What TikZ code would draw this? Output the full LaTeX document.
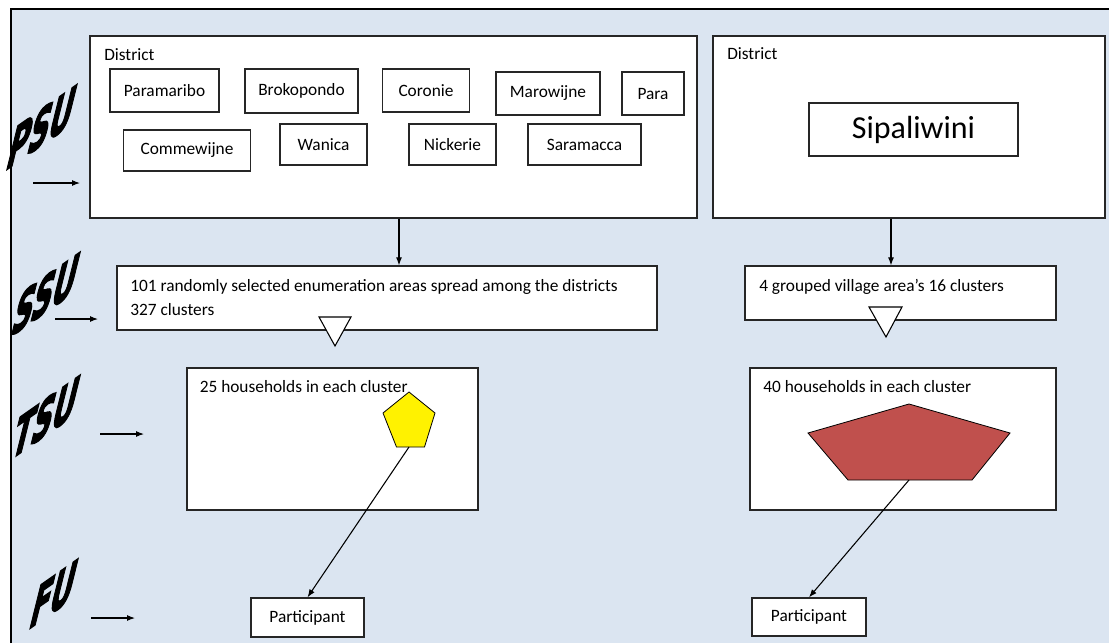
\documentclass[tikz,border=0pt]{standalone}
\usepackage{fontspec}
\setmainfont{Carlito}
\newfontfamily\wordart[BoldFeatures={FakeBold=3.5}]{DejaVu Sans}
\usetikzlibrary{arrows.meta}
\definecolor{panel}{RGB}{219,229,241}
\definecolor{housered}{RGB}{192,80,77}
\newcommand\areabox[5]{
  \node[box, minimum width={(#4-#2)*0.75pt}, minimum height={(#5-#3)*0.75pt}]
    (#1) at ({(#2+#4)/2},{(#3+#5)/2}) {};
}
\tikzset{
  box/.style={draw=black!85, fill=white, line width=1pt, inner sep=0pt},
  lbl/.style={font=\fontsize{13}{18}\selectfont, anchor=base west, inner sep=0pt, align=left},
  distbox/.style={box, font=\fontsize{13}{18}\selectfont},
  level/.style={font=\wordart\bfseries\fontsize{37}{37}\selectfont, inner sep=0pt,
    yslant=0.7, xslant=0.3, xscale=0.58},
  arr/.style={-{Latex[length=6pt,width=4.5pt]}, line width=0.8pt},
}
\begin{document}
\begin{tikzpicture}[x=0.75pt, y=-0.75pt, line join=miter]
\useasboundingbox (0,0) rectangle (1109,643);

% Panel
\fill[panel] (11,9) rectangle (1109,643);
\draw[line width=1.5pt] (11,643) -- (11,9) -- (1109,9);

% Level names
\node[level] (psu) at (42,127) {PSU};
\node[level] (ssu) at (46,294) {SSU};
\node[level] (tsu) at (46,417) {TSU};
\node[level] (fu) at (54,594) {FU};
\coordinate (psuarr) at (33,183);
\coordinate (ssuarr) at (55,319);
\coordinate (tsuarr) at (100,434);
\coordinate (fuarr) at (91,618);
\draw[arr] (psuarr) -- ++(47,0);
\draw[arr] (ssuarr) -- ++(43,0);
\draw[arr] (tsuarr) -- ++(44,0);
\draw[arr] (fuarr) -- ++(44,0);

% PSU: districts
\areabox{distL}{90}{36}{697}{218}
\areabox{distR}{713}{36}{1105}{218}
\node[lbl] (distLtxt) at (104,60) {District};
\node[lbl] (distRtxt) at (727,59) {District};
\foreach \name/\cx/\cy/\w/\h in {
  Paramaribo/164.5/90.5/109/43, Brokopondo/301.5/91/113/44,
  Coronie/426/90.5/87/43, Marowijne/548/93.5/104/43,
  Para/653/93.5/62/43, Commewijne/187/150.5/127/41,
  Wanica/323.5/144.5/87/41, Nickerie/452.5/144.5/87/41,
  Saramacca/584.5/144.5/113/41}
{
  \node[distbox, minimum width={\w*0.75pt}, minimum height={\h*0.75pt}]
    (\name) at (\cx,\cy) {\name};
}
\node[box, font=\fontsize{24}{28}\selectfont, minimum width={209*0.75pt},
  minimum height={53*0.75pt}] (Sipaliwini) at (913.5,129.5) {Sipaliwini};

% SSU
\areabox{ssuL}{117}{266}{657}{330}
\areabox{ssuR}{745}{266}{1056}{320}
\node[lbl] (ssuLtxt) at (130,315)
  {101 randomly selected enumeration areas spread among the districts\\327 clusters};
\node[lbl] (ssuRtxt) at (759,291) {4 grouped village area’s 16 clusters};
\coordinate (downL) at (399,0);
\coordinate (downR) at (891,0);
\draw[arr] (distL.south -| downL) -- (ssuL.north -| downL);
\draw[arr] (distR.south -| downR) -- (ssuR.north -| downR);
\draw[fill=white, line width=0.8pt] (319,317) -- (351,317) -- (335,346) -- cycle;
\draw[fill=white, line width=0.8pt] (869,307) -- (902,307) -- (886,337) -- cycle;

% TSU
\areabox{tsuL}{187}{368}{478}{510}
\areabox{tsuR}{750}{368}{1056}{510}
\node[lbl] (tsuLtxt) at (199.5,392) {25 households in each cluster};
\node[lbl] (tsuRtxt) at (763,392) {40 households in each cluster};
\draw[fill=yellow, line width=0.6pt] (409,392) -- (435,413) -- (424.5,447)
  -- (396.5,447) -- (383,413) -- cycle;
\draw[fill=housered, line width=0.6pt] (909,404) -- (1010,433) -- (972,480)
  -- (848,480) -- (808,433) -- cycle;
\coordinate (yelbot) at (409,447);
\coordinate (redbot) at (909,480);

% FU
\node[distbox, minimum width={113*0.75pt}, minimum height={39*0.75pt}]
  (partL) at (307.5,617.5) {Participant};
\node[distbox, minimum width={114*0.75pt}, minimum height={38*0.75pt}]
  (partR) at (809,617) {Participant};
\draw[arr] (yelbot) -- (partL.north);
\draw[arr] (redbot) -- (partR.north);

\end{tikzpicture}
\end{document}
